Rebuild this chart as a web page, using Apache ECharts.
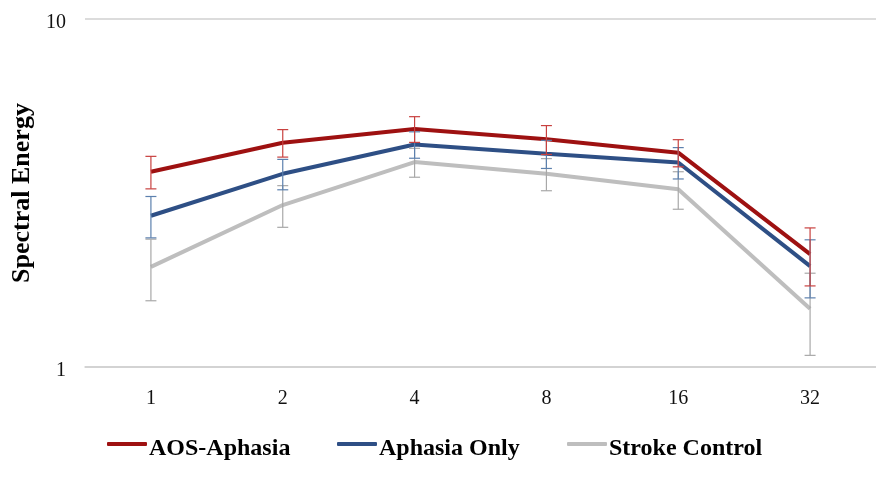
<!DOCTYPE html>
<html>
<head>
<meta charset="utf-8">
<script src="https://cdn.jsdelivr.net/npm/echarts@6/dist/echarts.min.js"></script>
<style>html,body{margin:0;padding:0;background:#fff}#c{width:876px;height:477px}</style>
</head>
<body>
<div id="c"></div>
<script>
const categories = ['1', '2', '4', '8', '16', '32'];
const aosAphasia = [3.64, 4.41, 4.83, 4.51, 4.13, 2.11];
const aosAphasiaErr = [0.39, 0.40, 0.41, 0.43, 0.37, 0.40];
const aphasiaOnly = [2.72, 3.59, 4.36, 4.10, 3.87, 1.95];
const aphasiaOnlyErr = [0.37, 0.36, 0.38, 0.38, 0.40, 0.37];
const strokeControl = [1.94, 2.92, 3.88, 3.59, 3.24, 1.47];
const strokeControlErr = [0.39, 0.40, 0.37, 0.38, 0.40, 0.39];
const seriesNames = ['AOS-Aphasia', 'Aphasia Only', 'Stroke Control'];
const yTicks = [1, 10];

const lineColors = ['#9E1111', '#2E4F85', '#BEBEBE'];
const errColors = ['#C8413F', '#5C80AE', '#A8A8A8'];
const serif = 'Liberation Serif';

const chart = echarts.init(document.getElementById('c'), null, {renderer: 'canvas'});

function errSeries(name, vals, errs, color) {
  const data = vals.map((v, i) => [i, v - errs[i], v + errs[i]]);
  return {
    type: 'custom',
    name: name + ' err',
    z: 5,
    silent: true,
    renderItem: function (params, api) {
      const x = api.value(0);
      const lo = api.coord([x, api.value(1)]);
      const hi = api.coord([x, api.value(2)]);
      const hw = 5.5;
      const st = {stroke: color, lineWidth: 1.2};
      return {
        type: 'group',
        children: [
          {type: 'line', shape: {x1: lo[0], y1: lo[1], x2: hi[0], y2: hi[1]}, style: st},
          {type: 'line', shape: {x1: lo[0] - hw, y1: lo[1], x2: lo[0] + hw, y2: lo[1]}, style: st},
          {type: 'line', shape: {x1: hi[0] - hw, y1: hi[1], x2: hi[0] + hw, y2: hi[1]}, style: st}
        ]
      };
    },
    data: data
  };
}

function lineSeries(name, vals, color) {
  return {
    type: 'line',
    name: name,
    data: vals,
    symbol: 'none',
    z: 3,
    lineStyle: {color: color, width: 4},
    itemStyle: {color: color}
  };
}

function legendAt(name, left) {
  return {
    data: [name],
    left: left,
    top: 437,
    padding: 0,
    icon: 'roundRect',
    itemWidth: 40,
    itemHeight: 4,
    itemGap: 0,
    formatter: '{t|{name}}',
    textStyle: {
      fontFamily: serif, fontWeight: 'bold', fontSize: 24, color: '#000',
      rich: {t: {fontFamily: serif, fontWeight: 'bold', fontSize: 24, color: '#000', padding: [10, 0, 0, -3]}}
    }
  };
}

chart.setOption({
  animation: false,
  backgroundColor: '#fff',
  grid: {left: 85, top: 19, width: 796, height: 348, containLabel: false},
  legend: [
    legendAt(seriesNames[0], 107),
    legendAt(seriesNames[1], 337),
    legendAt(seriesNames[2], 567)
  ],
  xAxis: {
    type: 'category',
    data: categories,
    boundaryGap: true,
    axisLine: {show: true, lineStyle: {color: '#D0D0D0', width: 1.5}},
    axisTick: {show: false},
    axisLabel: {fontFamily: serif, fontSize: 20, color: '#111', margin: 22}
  },
  yAxis: {
    type: 'log',
    logBase: 10,
    min: yTicks[0],
    max: yTicks[1],
    name: 'Spectral Energy',
    nameLocation: 'middle',
    nameRotate: 90,
    nameGap: 45,
    nameTextStyle: {fontFamily: serif, fontWeight: 'bold', fontSize: 26, color: '#000'},
    axisLine: {show: false},
    axisTick: {show: false},
    axisLabel: {
      fontFamily: serif, fontSize: 20, color: '#111', margin: 19,
      formatter: '{t|{value}}',
      rich: {t: {fontFamily: serif, fontSize: 20, color: '#111', padding: [8, 0, 0, 0]}}
    },
    splitLine: {show: true, lineStyle: {color: '#D0D0D0', width: 1.5}}
  },
  series: [
    lineSeries(seriesNames[2], strokeControl, lineColors[2]),
    lineSeries(seriesNames[1], aphasiaOnly, lineColors[1]),
    lineSeries(seriesNames[0], aosAphasia, lineColors[0]),
    errSeries(seriesNames[2], strokeControl, strokeControlErr, errColors[2]),
    errSeries(seriesNames[1], aphasiaOnly, aphasiaOnlyErr, errColors[1]),
    errSeries(seriesNames[0], aosAphasia, aosAphasiaErr, errColors[0])
  ]
});
</script>
</body>
</html>
